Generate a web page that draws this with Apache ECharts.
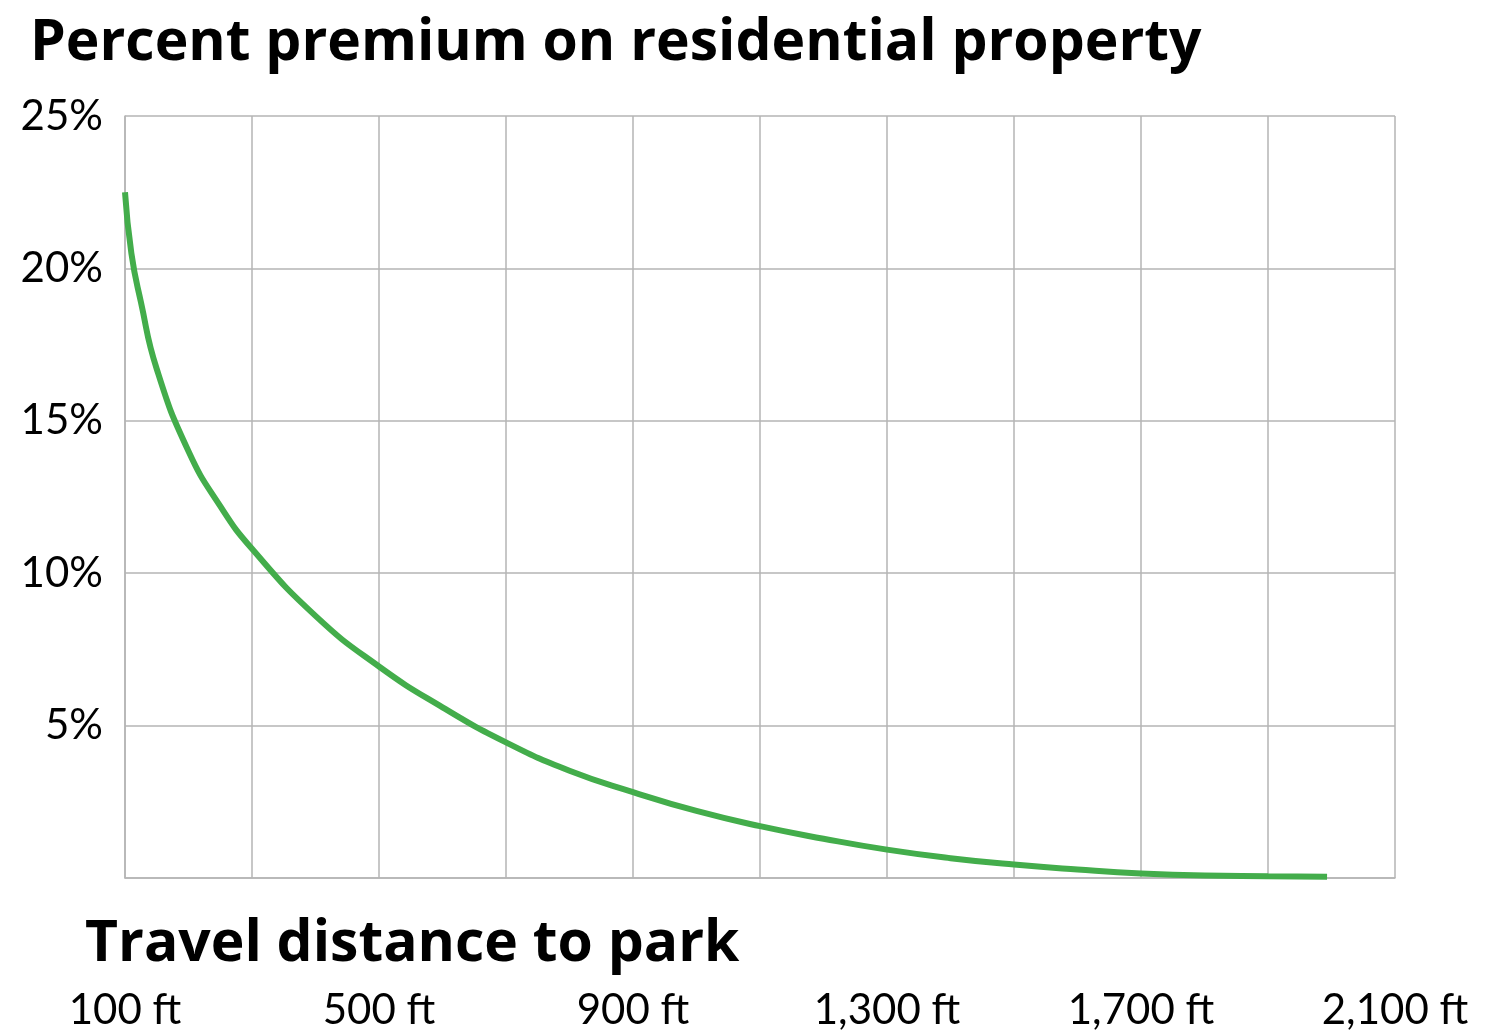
<!DOCTYPE html>
<html>
<head>
<meta charset="utf-8">
<title>Percent premium on residential property</title>
<script src="https://cdn.jsdelivr.net/npm/echarts@6/dist/echarts.min.js"></script>
<style>
  html, body { margin: 0; padding: 0; background: #ffffff; }
  #chart { width: 1503px; height: 1031px; }
</style>
</head>
<body>
<div id="chart"></div>
<script>
// Travel distance to the nearest park (ft) and the matching price premium (%)
const distanceFt = [100, 110, 125, 150, 200, 250, 300, 400, 500, 600, 700, 800,
                    900, 1000, 1100, 1200, 1300, 1400, 1500, 1600, 1700, 1800, 1900, 1993];
const premiumPct = [22.5, 20.5, 18.9, 16.7, 14.0, 12.2, 10.8, 8.6, 6.94, 5.6, 4.45, 3.52,
                    2.82, 2.2, 1.7, 1.29, 0.93, 0.65, 0.44, 0.28, 0.15, 0.08, 0.06, 0.04];

// Labelled ticks on each axis
const xTickLabels = [100, 500, 900, 1300, 1700, 2100];
const yTickLabels = [5, 10, 15, 20, 25];

const chartTitle = 'Percent premium on residential property';
const xAxisTitle = 'Travel distance to park';

const HEAD_FONT = '"Open Sans", "Noto Sans", sans-serif';
const LABEL_FONT = 'Lato, "Noto Sans", sans-serif';
const GRID_GREY = '#b5b5b5';

const chart = echarts.init(document.getElementById('chart'), null, { renderer: 'canvas' });

chart.setOption({
  backgroundColor: '#ffffff',
  animation: false,
  title: [
    {
      text: chartTitle,
      left: 30, top: 15, padding: 0,
      textStyle: { fontFamily: HEAD_FONT, fontWeight: 'bold', fontSize: 57, color: '#000000' }
    },
    {
      text: xAxisTitle,
      left: 85, top: 916, padding: 0,
      textStyle: { fontFamily: HEAD_FONT, fontWeight: 'bold', fontSize: 57, color: '#000000' }
    }
  ],
  grid: { left: 125, right: 108, top: 116, bottom: 151, containLabel: false },
  xAxis: {
    type: 'value',
    min: 100, max: 2100, interval: 200,
    axisLine: { show: true, lineStyle: { color: GRID_GREY, width: 1.5 } },
    axisTick: { show: false },
    splitLine: { show: true, lineStyle: { color: GRID_GREY, width: 1.5 } },
    axisLabel: {
      margin: 111,
      fontFamily: LABEL_FONT, fontSize: 42, color: '#000000',
      formatter: v => xTickLabels.includes(v) ? v.toLocaleString('en-US') + ' ft' : ''
    }
  },
  yAxis: {
    type: 'value',
    min: 0, max: 25, interval: 5,
    axisLine: { show: true, lineStyle: { color: GRID_GREY, width: 1.5 } },
    axisTick: { show: false },
    splitLine: { show: true, lineStyle: { color: GRID_GREY, width: 1.5 } },
    axisLabel: {
      margin: 22,
      fontFamily: LABEL_FONT, fontSize: 42, color: '#000000',
      formatter: v => yTickLabels.includes(v) ? v + '%' : ''
    }
  },
  series: [{
    type: 'line',
    data: distanceFt.map((d, i) => [d, premiumPct[i]]),
    smooth: 0.5,
    showSymbol: false,
    lineStyle: { color: '#43ad4b', width: 6, cap: 'butt' },
    z: 5
  }]
});
</script>
</body>
</html>
